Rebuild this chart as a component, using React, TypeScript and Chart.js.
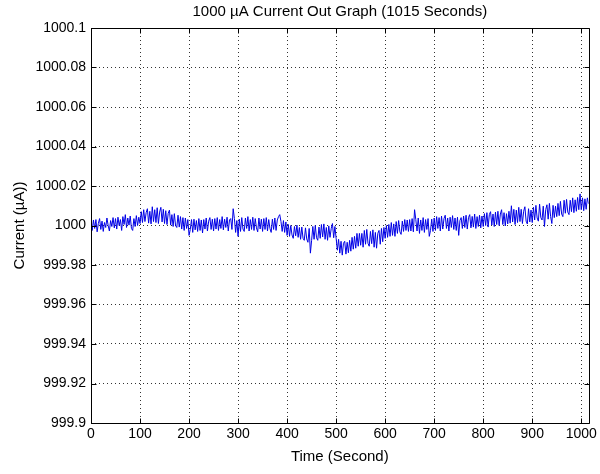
import { useEffect, useRef } from "react";
import { Chart, registerables } from "chart.js";

Chart.register(...registerables);

const TITLE = "1000 µA Current Out Graph (1015 Seconds)";
const X_TITLE = "Time (Second)";
const Y_TITLE = "Current (µA))";

const timeSeconds = [
  0, 2.5, 5, 7.5, 10, 12.5, 15, 17.5, 20, 22.5, 25, 27.5, 30, 32.5, 35, 37.5, 40, 42.5, 45, 47.5,
  50, 52.5, 55, 57.5, 60, 62.5, 65, 67.5, 70, 72.5, 75, 77.5, 80, 82.5, 85, 87.5, 90, 92.5, 95, 97.5,
  100, 102.5, 105, 107.5, 110, 112.5, 115, 117.5, 120, 122.5, 125, 127.5, 130, 132.5, 135, 137.5, 140, 142.5, 145, 147.5,
  150, 152.5, 155, 157.5, 160, 162.5, 165, 167.5, 170, 172.5, 175, 177.5, 180, 182.5, 185, 187.5, 190, 192.5, 195, 197.5,
  200, 202.5, 205, 207.5, 210, 212.5, 215, 217.5, 220, 222.5, 225, 227.5, 230, 232.5, 235, 237.5, 240, 242.5, 245, 247.5,
  250, 252.5, 255, 257.5, 260, 262.5, 265, 267.5, 270, 272.5, 275, 277.5, 280, 282.5, 285, 287.5, 290, 292.5, 295, 297.5,
  300, 302.5, 305, 307.5, 310, 312.5, 315, 317.5, 320, 322.5, 325, 327.5, 330, 332.5, 335, 337.5, 340, 342.5, 345, 347.5,
  350, 352.5, 355, 357.5, 360, 362.5, 365, 367.5, 370, 372.5, 375, 377.5, 380, 382.5, 385, 387.5, 390, 392.5, 395, 397.5,
  400, 402.5, 405, 407.5, 410, 412.5, 415, 417.5, 420, 422.5, 425, 427.5, 430, 432.5, 435, 437.5, 440, 442.5, 445, 447.5,
  450, 452.5, 455, 457.5, 460, 462.5, 465, 467.5, 470, 472.5, 475, 477.5, 480, 482.5, 485, 487.5, 490, 492.5, 495, 497.5,
  500, 502.5, 505, 507.5, 510, 512.5, 515, 517.5, 520, 522.5, 525, 527.5, 530, 532.5, 535, 537.5, 540, 542.5, 545, 547.5,
  550, 552.5, 555, 557.5, 560, 562.5, 565, 567.5, 570, 572.5, 575, 577.5, 580, 582.5, 585, 587.5, 590, 592.5, 595, 597.5,
  600, 602.5, 605, 607.5, 610, 612.5, 615, 617.5, 620, 622.5, 625, 627.5, 630, 632.5, 635, 637.5, 640, 642.5, 645, 647.5,
  650, 652.5, 655, 657.5, 660, 662.5, 665, 667.5, 670, 672.5, 675, 677.5, 680, 682.5, 685, 687.5, 690, 692.5, 695, 697.5,
  700, 702.5, 705, 707.5, 710, 712.5, 715, 717.5, 720, 722.5, 725, 727.5, 730, 732.5, 735, 737.5, 740, 742.5, 745, 747.5,
  750, 752.5, 755, 757.5, 760, 762.5, 765, 767.5, 770, 772.5, 775, 777.5, 780, 782.5, 785, 787.5, 790, 792.5, 795, 797.5,
  800, 802.5, 805, 807.5, 810, 812.5, 815, 817.5, 820, 822.5, 825, 827.5, 830, 832.5, 835, 837.5, 840, 842.5, 845, 847.5,
  850, 852.5, 855, 857.5, 860, 862.5, 865, 867.5, 870, 872.5, 875, 877.5, 880, 882.5, 885, 887.5, 890, 892.5, 895, 897.5,
  900, 902.5, 905, 907.5, 910, 912.5, 915, 917.5, 920, 922.5, 925, 927.5, 930, 932.5, 935, 937.5, 940, 942.5, 945, 947.5,
  950, 952.5, 955, 957.5, 960, 962.5, 965, 967.5, 970, 972.5, 975, 977.5, 980, 982.5, 985, 987.5, 990, 992.5, 995, 997.5,
  1000, 1002.5, 1005, 1007.5, 1010, 1012.5, 1015,
];

const currentMicroAmp = [
  1000.0005, 999.9975, 1000.0028, 999.9985, 1000.003, 999.9968, 1000.001, 1000.0035, 999.998, 1000.0022,
  999.997, 1000.0015, 999.999, 1000.0038, 1000, 999.9972, 1000.0025, 999.9995, 1000.004, 999.9988,
  1000.0035, 999.9982, 1000.0042, 1000, 1000.003, 999.9975, 1000.0045, 1000.0005, 1000.0055, 999.999,
  1000.0038, 1000.0002, 1000.0048, 999.9985, 999.9975, 1000.0035, 999.9995, 1000.005, 1000, 1000.0042,
  1000.001, 1000.007, 1000.0015, 1000.008, 1000.002, 1000.0065, 1000.0085, 1000.0012, 1000.0072, 1000.0008,
  1000.0095, 1000.002, 1000.008, 1000.0015, 1000.009, 1000.001, 1000.0068, 1000.0092, 1000.0018, 1000.0082,
  1000.001, 1000.0075, 1000.0005, 1000.0062, 1000.0078, 1000.0002, 1000.0055, 999.9995, 1000.006, 1000,
  999.999, 1000.0052, 999.9992, 1000.0045, 999.9982, 1000.004, 999.9975, 1000.0038, 999.9985, 1000.003,
  999.995, 999.998, 1000.003, 999.9965, 1000.0032, 999.9978, 1000.0025, 999.997, 1000.0035, 999.9975,
  1000.0028, 999.9962, 1000.003, 999.9982, 1000.0038, 999.9972, 1000.0022, 1000.004, 999.998, 1000.0032,
  999.9972, 1000.0035, 999.9982, 1000.004, 999.9975, 1000.003, 999.9985, 1000.0045, 999.9978, 1000.0032,
  999.999, 1000.0042, 999.9972, 1000.0028, 1000.0035, 999.998, 1000.0085, 1000.0035, 999.9965, 1000.0025,
  999.9945, 1000.0032, 999.997, 1000.004, 999.9982, 999.997, 1000.0038, 999.9985, 1000.0045, 999.9972,
  1000.003, 999.998, 1000.0042, 999.9975, 1000.0035, 999.9988, 999.9968, 1000.0038, 999.9982, 1000.0032,
  999.997, 1000.0035, 999.998, 1000.004, 999.9972, 1000.003, 999.9985, 999.9965, 1000.0032, 999.998,
  1000.0038, 999.9975, 1000.0028, 1000.0045, 1000.0055, 1000.002, 999.997, 1000.0025, 999.9965, 1000.0018,
  999.995, 1000.0005, 999.9945, 1000, 999.9952, 999.9935, 999.9995, 999.9948, 1000.0002, 999.994,
  999.999, 999.993, 999.9992, 999.9935, 999.9925, 999.9988, 999.9932, 999.9915, 999.9985, 999.986,
  999.9925, 999.9995, 999.993, 1000, 999.9938, 999.9925, 999.9992, 999.9935, 1000.0005, 999.9942,
  1000.0008, 999.993, 999.999, 999.9925, 999.9998, 999.994, 999.9985, 1000.001, 999.9938, 999.9995,
  999.9935, 999.9875, 999.993, 999.986, 999.992, 999.985, 999.991, 999.992, 999.9855, 999.9915,
  999.9862, 999.9925, 999.987, 999.994, 999.988, 999.9945, 999.9885, 999.996, 999.9895, 999.996,
  999.99, 999.996, 999.989, 999.9975, 999.9905, 999.998, 999.991, 999.9895, 999.997, 999.9908,
  999.9978, 999.989, 999.9965, 999.9885, 999.996, 999.9975, 999.9905, 999.9985, 999.9918, 999.999,
  999.9935, 1000, 999.994, 1000.0005, 999.9945, 1000.0015, 999.995, 1000.0008, 999.9945, 1000.002,
  999.996, 1000.0025, 999.9968, 999.9955, 1000.0022, 999.997, 1000.003, 999.9975, 1000.0028, 999.997,
  1000.003, 999.9972, 1000.0035, 999.9968, 1000.008, 1000.003, 999.9972, 1000.0038, 999.996, 1000.0028,
  999.9975, 1000.004, 999.9965, 1000.003, 999.998, 1000.0035, 999.9945, 999.9975, 1000.0032, 999.997,
  1000.0038, 999.9975, 1000.0045, 999.9985, 1000.004, 999.9972, 1000.0048, 999.9982, 1000.0035, 1000.0052,
  999.9985, 1000.0038, 999.9972, 1000.0042, 999.999, 1000.005, 999.998, 1000.0038, 999.9975, 1000.0042,
  999.995, 1000.0025, 1000.004, 999.9985, 1000.0048, 999.999, 1000.0052, 999.9982, 1000.004, 1000.0055,
  999.9988, 1000.0046, 999.9992, 1000.0058, 999.9985, 1000.0045, 999.9995, 1000.0052, 999.9988, 1000.0048,
  999.9995, 1000.006, 1000, 1000.0065, 999.9992, 1000.0055, 1000.007, 1000.0002, 1000.0058, 999.9995,
  1000.0068, 1000.0005, 1000.0072, 1000, 1000.0058, 1000.008, 1000.0005, 1000.0065, 999.9998, 1000.006,
  1000.0008, 1000.0072, 1000.0012, 1000.01, 1000.0018, 1000.0082, 1000.0005, 1000.0078, 1000.0015, 1000.0092,
  1000.002, 1000.0082, 1000.001, 1000.0072, 1000.0095, 1000.0022, 1000.0008, 1000.0085, 1000.0018, 1000.0078,
  1000.0015, 1000.0092, 1000.0028, 1000.0102, 1000.0038, 1000.0022, 1000.0108, 1000.004, 1000.0028, 1000.0098,
  999.9995, 1000.008, 1000.0105, 1000.0032, 1000.0112, 1000.0045, 1000.001, 1000.0102, 1000.004, 1000.0098,
  1000.0045, 1000.0112, 1000.005, 1000.0122, 1000.0058, 1000.0045, 1000.0128, 1000.0062, 1000.0132, 1000.0068,
  1000.0055, 1000.0128, 1000.007, 1000.014, 1000.0065, 1000.013, 1000.0072, 1000.0142, 1000.008, 1000.016,
  1000.008, 1000.014, 1000.0075, 1000.0135, 1000.0082, 1000.014, 1000.011,
];

const xTickValues = [0, 100, 200, 300, 400, 500, 600, 700, 800, 900, 1000];
const xTickLabels = ["0", "100", "200", "300", "400", "500", "600", "700", "800", "900", "1000"];
const yTickValues = [999.9, 999.92, 999.94, 999.96, 999.98, 1000, 1000.02, 1000.04, 1000.06, 1000.08, 1000.1];
const yTickLabels = ["999.9", "999.92", "999.94", "999.96", "999.98", "1000", "1000.02", "1000.04", "1000.06", "1000.08", "1000.1"];

const FONT = "'Liberation Sans', Arial, Helvetica, sans-serif";

const framePlugin = {
  id: "matlabFrame",
  afterDatasetsDraw(chart: any) {
    const { ctx, chartArea } = chart;
    const { left, right, top, bottom } = chartArea;
    const xs = chart.scales.x;
    const ys = chart.scales.y;
    const L = Math.round(left) + 0.5;
    const R = Math.round(right) + 0.5;
    const T = Math.round(top) + 0.5;
    const B = Math.round(bottom) + 0.5;
    ctx.save();
    ctx.setLineDash([]);
    ctx.strokeStyle = "#000";
    ctx.lineWidth = 1;
    ctx.beginPath();
    ctx.rect(L, T, R - L, B - T);
    ctx.stroke();
    const len = 5;
    ctx.beginPath();
    xTickValues.forEach((v) => {
      const px = Math.round(xs.getPixelForValue(v)) + 0.5;
      ctx.moveTo(px, B);
      ctx.lineTo(px, B - len);
      ctx.moveTo(px, T);
      ctx.lineTo(px, T + len);
    });
    yTickValues.forEach((v) => {
      const py = Math.round(ys.getPixelForValue(v)) + 0.5;
      ctx.moveTo(L, py);
      ctx.lineTo(L + len, py);
      ctx.moveTo(R, py);
      ctx.lineTo(R - len, py);
    });
    ctx.stroke();
    ctx.restore();
  },
};

export default function App() {
  const canvasRef = useRef<HTMLCanvasElement | null>(null);

  useEffect(() => {
    document.body.style.margin = "0";
    const canvas = canvasRef.current;
    if (!canvas) return;
    const chart = new Chart(canvas, {
      type: "line",
      data: {
        datasets: [
          {
            data: timeSeconds.map((t, i) => ({ x: t, y: currentMicroAmp[i] })),
            borderColor: "#0000e6",
            borderWidth: 1,
            pointRadius: 0,
            tension: 0,
            fill: false,
          },
        ],
      },
      options: {
        animation: false,
        responsive: false,
        devicePixelRatio: 1,
        layout: { padding: { left: 0, right: 9, top: 0, bottom: 0 } },
        plugins: {
          legend: { display: false },
          tooltip: { enabled: false },
          title: {
            display: true,
            text: TITLE,
            fullSize: false,
            color: "#000",
            font: { family: FONT, size: 15, weight: "normal" },
            padding: { top: 3, bottom: 7 },
          },
        },
        scales: {
          x: {
            type: "linear",
            min: 0,
            max: 1015,
            afterFit: (s: any) => {
              s.height = 51;
            },
            afterBuildTicks: (s: any) => {
              s.ticks = xTickValues.map((v) => ({ value: v }));
            },
            ticks: {
              color: "#000",
              font: { family: FONT, size: 14 },
              padding: 3,
              maxRotation: 0,
              autoSkip: false,
              callback: (v: any) => {
                const i = xTickValues.indexOf(Number(v));
                return i >= 0 ? xTickLabels[i] : "";
              },
            },
            grid: {
              color: "rgba(0,0,0,0.8)",
              lineWidth: 1,
              drawTicks: false,
            },
            border: { display: false, dash: [1, 3] },
            title: {
              display: true,
              text: X_TITLE,
              color: "#000",
              font: { family: FONT, size: 15 },
              padding: { top: 0, bottom: 8 },
            },
          },
          y: {
            type: "linear",
            min: 999.9,
            max: 1000.1,
            afterFit: (s: any) => {
              s.width = 91;
            },
            afterBuildTicks: (s: any) => {
              s.ticks = yTickValues.map((v) => ({ value: v }));
            },
            ticks: {
              color: "#000",
              font: { family: FONT, size: 14 },
              padding: 5,
              autoSkip: false,
              callback: (v: any) => {
                const i = yTickValues.findIndex((t) => Math.abs(t - Number(v)) < 1e-6);
                return i >= 0 ? yTickLabels[i] : "";
              },
            },
            grid: {
              color: "rgba(0,0,0,0.8)",
              lineWidth: 1,
              drawTicks: false,
            },
            border: { display: false, dash: [1, 3] },
            title: {
              display: true,
              text: Y_TITLE,
              color: "#000",
              font: { family: FONT, size: 15 },
              padding: { top: 11, bottom: 0 },
            },
          },
        },
      },
      plugins: [framePlugin],
    });
    return () => chart.destroy();
  }, []);

  return (
    <div style={{ width: 600, height: 474, position: "relative", background: "#fff" }}>
      <canvas ref={canvasRef} width={600} height={474} style={{ display: "block" }} />
    </div>
  );
}
